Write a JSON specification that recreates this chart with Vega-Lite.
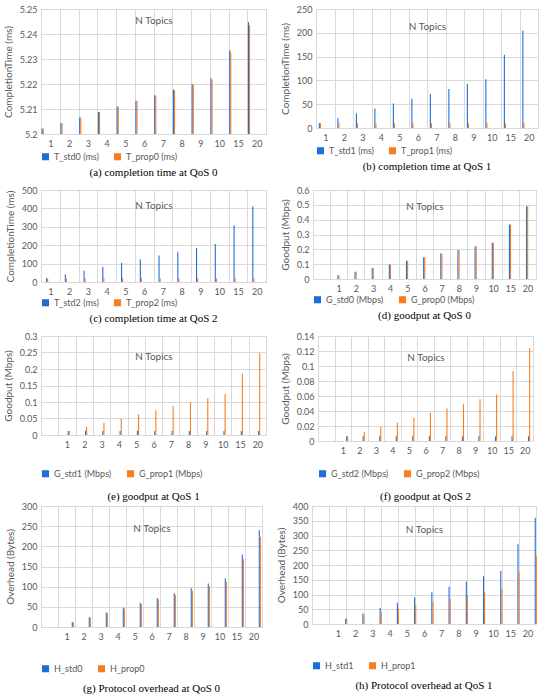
{
  "$schema": "https://vega.github.io/schema/vega-lite/v6.json",
  "padding": {"left": 2, "top": 4, "right": 0, "bottom": 0},
  "spacing": 6,
  "datasets": {
    "a": [
      {"n":"1","s":"T_std0 (ms)","v":5.2022},{"n":"2","s":"T_std0 (ms)","v":5.2044},{"n":"3","s":"T_std0 (ms)","v":5.2066},{"n":"4","s":"T_std0 (ms)","v":5.2088},
      {"n":"5","s":"T_std0 (ms)","v":5.2110},{"n":"6","s":"T_std0 (ms)","v":5.2133},{"n":"7","s":"T_std0 (ms)","v":5.2155},{"n":"8","s":"T_std0 (ms)","v":5.2177},
      {"n":"9","s":"T_std0 (ms)","v":5.2200},{"n":"10","s":"T_std0 (ms)","v":5.2223},{"n":"15","s":"T_std0 (ms)","v":5.2335},{"n":"20","s":"T_std0 (ms)","v":5.2448},
      {"n":"1","s":"T_prop0 (ms)","v":5.2022},{"n":"2","s":"T_prop0 (ms)","v":5.2044},{"n":"3","s":"T_prop0 (ms)","v":5.2066},{"n":"4","s":"T_prop0 (ms)","v":5.2087},
      {"n":"5","s":"T_prop0 (ms)","v":5.2109},{"n":"6","s":"T_prop0 (ms)","v":5.2131},{"n":"7","s":"T_prop0 (ms)","v":5.2153},{"n":"8","s":"T_prop0 (ms)","v":5.2175},
      {"n":"9","s":"T_prop0 (ms)","v":5.2196},{"n":"10","s":"T_prop0 (ms)","v":5.2218},{"n":"15","s":"T_prop0 (ms)","v":5.2327},{"n":"20","s":"T_prop0 (ms)","v":5.2435}
    ],
    "b": [
      {"n":"1","s":"T_std1 (ms)","v":10.3},{"n":"2","s":"T_std1 (ms)","v":20.5},{"n":"3","s":"T_std1 (ms)","v":30.8},{"n":"4","s":"T_std1 (ms)","v":41},
      {"n":"5","s":"T_std1 (ms)","v":51.3},{"n":"6","s":"T_std1 (ms)","v":61.6},{"n":"7","s":"T_std1 (ms)","v":71.8},{"n":"8","s":"T_std1 (ms)","v":82},
      {"n":"9","s":"T_std1 (ms)","v":92.3},{"n":"10","s":"T_std1 (ms)","v":102.5},{"n":"15","s":"T_std1 (ms)","v":154},{"n":"20","s":"T_std1 (ms)","v":205},
      {"n":"1","s":"T_prop1 (ms)","v":10},{"n":"2","s":"T_prop1 (ms)","v":10},{"n":"3","s":"T_prop1 (ms)","v":10},{"n":"4","s":"T_prop1 (ms)","v":10},
      {"n":"5","s":"T_prop1 (ms)","v":10},{"n":"6","s":"T_prop1 (ms)","v":10},{"n":"7","s":"T_prop1 (ms)","v":10},{"n":"8","s":"T_prop1 (ms)","v":10},
      {"n":"9","s":"T_prop1 (ms)","v":10},{"n":"10","s":"T_prop1 (ms)","v":10},{"n":"15","s":"T_prop1 (ms)","v":10},{"n":"20","s":"T_prop1 (ms)","v":10}
    ],
    "c": [
      {"n":"1","s":"T_std2 (ms)","v":20.6},{"n":"2","s":"T_std2 (ms)","v":41.2},{"n":"3","s":"T_std2 (ms)","v":61.8},{"n":"4","s":"T_std2 (ms)","v":82.4},
      {"n":"5","s":"T_std2 (ms)","v":103},{"n":"6","s":"T_std2 (ms)","v":123.6},{"n":"7","s":"T_std2 (ms)","v":144.2},{"n":"8","s":"T_std2 (ms)","v":164.8},
      {"n":"9","s":"T_std2 (ms)","v":185.4},{"n":"10","s":"T_std2 (ms)","v":206},{"n":"15","s":"T_std2 (ms)","v":309},{"n":"20","s":"T_std2 (ms)","v":412},
      {"n":"1","s":"T_prop2 (ms)","v":20},{"n":"2","s":"T_prop2 (ms)","v":20},{"n":"3","s":"T_prop2 (ms)","v":20},{"n":"4","s":"T_prop2 (ms)","v":20},
      {"n":"5","s":"T_prop2 (ms)","v":20},{"n":"6","s":"T_prop2 (ms)","v":20},{"n":"7","s":"T_prop2 (ms)","v":20},{"n":"8","s":"T_prop2 (ms)","v":20},
      {"n":"9","s":"T_prop2 (ms)","v":20},{"n":"10","s":"T_prop2 (ms)","v":20},{"n":"15","s":"T_prop2 (ms)","v":20},{"n":"20","s":"T_prop2 (ms)","v":20}
    ],
    "d": [
      {"n":"1","s":"G_std0 (Mbps)","v":0.0245},{"n":"2","s":"G_std0 (Mbps)","v":0.049},{"n":"3","s":"G_std0 (Mbps)","v":0.0735},{"n":"4","s":"G_std0 (Mbps)","v":0.098},
      {"n":"5","s":"G_std0 (Mbps)","v":0.1225},{"n":"6","s":"G_std0 (Mbps)","v":0.147},{"n":"7","s":"G_std0 (Mbps)","v":0.1715},{"n":"8","s":"G_std0 (Mbps)","v":0.196},
      {"n":"9","s":"G_std0 (Mbps)","v":0.2205},{"n":"10","s":"G_std0 (Mbps)","v":0.245},{"n":"15","s":"G_std0 (Mbps)","v":0.3675},{"n":"20","s":"G_std0 (Mbps)","v":0.49},
      {"n":"1","s":"G_prop0 (Mbps)","v":0.0245},{"n":"2","s":"G_prop0 (Mbps)","v":0.049},{"n":"3","s":"G_prop0 (Mbps)","v":0.0735},{"n":"4","s":"G_prop0 (Mbps)","v":0.098},
      {"n":"5","s":"G_prop0 (Mbps)","v":0.1225},{"n":"6","s":"G_prop0 (Mbps)","v":0.147},{"n":"7","s":"G_prop0 (Mbps)","v":0.1715},{"n":"8","s":"G_prop0 (Mbps)","v":0.196},
      {"n":"9","s":"G_prop0 (Mbps)","v":0.2205},{"n":"10","s":"G_prop0 (Mbps)","v":0.245},{"n":"15","s":"G_prop0 (Mbps)","v":0.3675},{"n":"20","s":"G_prop0 (Mbps)","v":0.49}
    ],
    "e": [
      {"n":"1","s":"G_std1 (Mbps)","v":0.0123},{"n":"2","s":"G_std1 (Mbps)","v":0.0123},{"n":"3","s":"G_std1 (Mbps)","v":0.0123},{"n":"4","s":"G_std1 (Mbps)","v":0.0123},
      {"n":"5","s":"G_std1 (Mbps)","v":0.0123},{"n":"6","s":"G_std1 (Mbps)","v":0.0123},{"n":"7","s":"G_std1 (Mbps)","v":0.0123},{"n":"8","s":"G_std1 (Mbps)","v":0.0123},
      {"n":"9","s":"G_std1 (Mbps)","v":0.0123},{"n":"10","s":"G_std1 (Mbps)","v":0.0123},{"n":"15","s":"G_std1 (Mbps)","v":0.0123},{"n":"20","s":"G_std1 (Mbps)","v":0.0123},
      {"n":"1","s":"G_prop1 (Mbps)","v":0.0124},{"n":"2","s":"G_prop1 (Mbps)","v":0.0248},{"n":"3","s":"G_prop1 (Mbps)","v":0.0372},{"n":"4","s":"G_prop1 (Mbps)","v":0.0496},
      {"n":"5","s":"G_prop1 (Mbps)","v":0.062},{"n":"6","s":"G_prop1 (Mbps)","v":0.0744},{"n":"7","s":"G_prop1 (Mbps)","v":0.0868},{"n":"8","s":"G_prop1 (Mbps)","v":0.0992},
      {"n":"9","s":"G_prop1 (Mbps)","v":0.1116},{"n":"10","s":"G_prop1 (Mbps)","v":0.124},{"n":"15","s":"G_prop1 (Mbps)","v":0.186},{"n":"20","s":"G_prop1 (Mbps)","v":0.248}
    ],
    "f": [
      {"n":"1","s":"G_std2 (Mbps)","v":0.0062},{"n":"2","s":"G_std2 (Mbps)","v":0.0062},{"n":"3","s":"G_std2 (Mbps)","v":0.0062},{"n":"4","s":"G_std2 (Mbps)","v":0.0062},
      {"n":"5","s":"G_std2 (Mbps)","v":0.0062},{"n":"6","s":"G_std2 (Mbps)","v":0.0062},{"n":"7","s":"G_std2 (Mbps)","v":0.0062},{"n":"8","s":"G_std2 (Mbps)","v":0.0062},
      {"n":"9","s":"G_std2 (Mbps)","v":0.0062},{"n":"10","s":"G_std2 (Mbps)","v":0.0062},{"n":"15","s":"G_std2 (Mbps)","v":0.0062},{"n":"20","s":"G_std2 (Mbps)","v":0.0062},
      {"n":"1","s":"G_prop2 (Mbps)","v":0.0062},{"n":"2","s":"G_prop2 (Mbps)","v":0.0124},{"n":"3","s":"G_prop2 (Mbps)","v":0.0186},{"n":"4","s":"G_prop2 (Mbps)","v":0.0248},
      {"n":"5","s":"G_prop2 (Mbps)","v":0.031},{"n":"6","s":"G_prop2 (Mbps)","v":0.0372},{"n":"7","s":"G_prop2 (Mbps)","v":0.0434},{"n":"8","s":"G_prop2 (Mbps)","v":0.0496},
      {"n":"9","s":"G_prop2 (Mbps)","v":0.0558},{"n":"10","s":"G_prop2 (Mbps)","v":0.062},{"n":"15","s":"G_prop2 (Mbps)","v":0.093},{"n":"20","s":"G_prop2 (Mbps)","v":0.124}
    ],
    "g": [
      {"n":"1","s":"H_std0","v":12},{"n":"2","s":"H_std0","v":24},{"n":"3","s":"H_std0","v":36},{"n":"4","s":"H_std0","v":48},
      {"n":"5","s":"H_std0","v":60},{"n":"6","s":"H_std0","v":72},{"n":"7","s":"H_std0","v":84},{"n":"8","s":"H_std0","v":96},
      {"n":"9","s":"H_std0","v":108},{"n":"10","s":"H_std0","v":120},{"n":"15","s":"H_std0","v":180},{"n":"20","s":"H_std0","v":240},
      {"n":"1","s":"H_prop0","v":12.5},{"n":"2","s":"H_prop0","v":23.6},{"n":"3","s":"H_prop0","v":34.7},{"n":"4","s":"H_prop0","v":45.8},
      {"n":"5","s":"H_prop0","v":57},{"n":"6","s":"H_prop0","v":68},{"n":"7","s":"H_prop0","v":79.2},{"n":"8","s":"H_prop0","v":90.3},
      {"n":"9","s":"H_prop0","v":101.4},{"n":"10","s":"H_prop0","v":112.5},{"n":"15","s":"H_prop0","v":168},{"n":"20","s":"H_prop0","v":223.5}
    ],
    "h": [
      {"n":"1","s":"H_std1","v":18},{"n":"2","s":"H_std1","v":36},{"n":"3","s":"H_std1","v":54},{"n":"4","s":"H_std1","v":72},
      {"n":"5","s":"H_std1","v":90},{"n":"6","s":"H_std1","v":108},{"n":"7","s":"H_std1","v":126},{"n":"8","s":"H_std1","v":144},
      {"n":"9","s":"H_std1","v":162},{"n":"10","s":"H_std1","v":180},{"n":"15","s":"H_std1","v":270},{"n":"20","s":"H_std1","v":360},
      {"n":"1","s":"H_prop1","v":19},{"n":"2","s":"H_prop1","v":30.1},{"n":"3","s":"H_prop1","v":41.2},{"n":"4","s":"H_prop1","v":52.3},
      {"n":"5","s":"H_prop1","v":63.4},{"n":"6","s":"H_prop1","v":74.5},{"n":"7","s":"H_prop1","v":85.6},{"n":"8","s":"H_prop1","v":96.7},
      {"n":"9","s":"H_prop1","v":107.8},{"n":"10","s":"H_prop1","v":118.9},{"n":"15","s":"H_prop1","v":174.4},{"n":"20","s":"H_prop1","v":229.9}
    ]
  },
  "vconcat": [
    {
      "hconcat": [
        {
          "width": 225, "height": 125,
          "title": "(a) completion time at QoS 0",
          "data": {"name": "a"},
          "mark": {"type": "bar", "clip": true},
          "encoding": {
            "x": {"field": "n", "type": "nominal", "title": "N Topics", "axis": {"titleY": -119}, "scale": {"domain": ["1","2","3","4","5","6","7","8","9","10","15","20"], "paddingInner": 0, "paddingOuter": 0}},
            "xOffset": {"field": "s", "scale": {"domain": ["T_std0 (ms)", "T_prop0 (ms)"], "paddingOuter": 0.6}},
            "y": {"field": "v", "type": "quantitative", "title": "CompletionTime (ms)", "scale": {"domain": [5.2, 5.25], "zero": false, "nice": false}, "axis": {"values": [5.2, 5.21, 5.22, 5.23, 5.24, 5.25]}},
            "y2": {"datum": 5.2},
            "color": {"field": "s", "title": null, "scale": {"domain": ["T_std0 (ms)", "T_prop0 (ms)"], "range": ["#1f6ed4", "#f57d22"]}}
          }
        },
        {
          "width": 222, "height": 119,
          "title": "(b) completion time at QoS 1",
          "data": {"name": "b"},
          "mark": "bar",
          "encoding": {
            "x": {"field": "n", "type": "nominal", "title": "N Topics", "axis": {"titleY": -107}, "scale": {"domain": ["1","2","3","4","5","6","7","8","9","10","15","20"], "paddingInner": 0, "paddingOuter": 0}},
            "xOffset": {"field": "s", "scale": {"domain": ["T_std1 (ms)", "T_prop1 (ms)"], "paddingOuter": 0.6}},
            "y": {"field": "v", "type": "quantitative", "title": "CompletionTime (ms)", "scale": {"domain": [0, 250], "nice": false}, "axis": {"values": [0, 50, 100, 150, 200, 250]}},
            "color": {"field": "s", "title": null, "scale": {"domain": ["T_std1 (ms)", "T_prop1 (ms)"], "range": ["#1f6ed4", "#f57d22"]}}
          }
        }
      ],
      "spacing": 12,
      "resolve": {"scale": {"color": "independent"}, "legend": {"color": "independent"}}
    },
    {
      "hconcat": [
        {
          "width": 225, "height": 92,
          "title": "(c) completion time at QoS 2",
          "data": {"name": "c"},
          "mark": "bar",
          "encoding": {
            "x": {"field": "n", "type": "nominal", "title": "N Topics", "axis": {"titleY": -82}, "scale": {"domain": ["1","2","3","4","5","6","7","8","9","10","15","20"], "paddingInner": 0, "paddingOuter": 0}},
            "xOffset": {"field": "s", "scale": {"domain": ["T_std2 (ms)", "T_prop2 (ms)"], "paddingOuter": 0.6}},
            "y": {"field": "v", "type": "quantitative", "title": "CompletionTime (ms)", "scale": {"domain": [0, 500], "nice": false}, "axis": {"values": [0, 100, 200, 300, 400, 500]}},
            "color": {"field": "s", "title": null, "scale": {"domain": ["T_std2 (ms)", "T_prop2 (ms)"], "range": ["#1f6ed4", "#f57d22"]}, "legend": {"offset": 2}}
          }
        },
        {
          "width": 223, "height": 89,
          "title": "(d) goodput at QoS 0",
          "data": {"name": "d"},
          "mark": "bar",
          "encoding": {
            "x": {"field": "n", "type": "nominal", "title": "N Topics", "axis": {"titleY": -78}, "scale": {"domain": [" ","1","2","3","4","5","6","7","8","9","10","15","20"], "paddingInner": 0, "paddingOuter": 0}},
            "xOffset": {"field": "s", "scale": {"domain": ["G_std0 (Mbps)", "G_prop0 (Mbps)"], "paddingOuter": 0.6}},
            "y": {"field": "v", "type": "quantitative", "title": "Goodput (Mbps)", "scale": {"domain": [0, 0.6], "nice": false}, "axis": {"values": [0, 0.1, 0.2, 0.3, 0.4, 0.5, 0.6]}},
            "color": {"field": "s", "title": null, "scale": {"domain": ["G_std0 (Mbps)", "G_prop0 (Mbps)"], "range": ["#1f6ed4", "#f57d22"]}, "legend": {"offset": 2}}
          }
        }
      ],
      "spacing": 12,
      "resolve": {"scale": {"color": "independent"}, "legend": {"color": "independent"}}
    },
    {
      "vconcat": [
        {
          "hconcat": [
            {
              "width": 225, "height": 99,
              "title": {"text": "(e) goodput at QoS 1", "offset": 12},
              "data": {"name": "e"},
              "mark": "bar",
              "encoding": {
                "x": {"field": "n", "type": "nominal", "title": "N Topics", "axis": {"titleY": -84}, "scale": {"domain": [" ","1","2","3","4","5","6","7","8","9","10","15","20"], "paddingInner": 0, "paddingOuter": 0}},
                "xOffset": {"field": "s", "scale": {"domain": ["G_std1 (Mbps)", "G_prop1 (Mbps)"], "paddingOuter": 0.6}},
                "y": {"field": "v", "type": "quantitative", "title": "Goodput (Mbps)", "scale": {"domain": [0, 0.3], "nice": false}, "axis": {"values": [0, 0.05, 0.1, 0.15, 0.2, 0.25, 0.3]}},
                "color": {"field": "s", "title": null, "scale": {"domain": ["G_std1 (Mbps)", "G_prop1 (Mbps)"], "range": ["#1f6ed4", "#f57d22"]}, "legend": {"offset": 20}}
              }
            },
            {
              "width": 215, "height": 105,
              "title": {"text": "(f) goodput at QoS 2", "offset": 12},
              "data": {"name": "f"},
              "mark": "bar",
              "encoding": {
                "x": {"field": "n", "type": "nominal", "title": "N Topics", "axis": {"titleY": -89}, "scale": {"domain": [" ","1","2","3","4","5","6","7","8","9","10","15","20"], "paddingInner": 0, "paddingOuter": 0}},
                "xOffset": {"field": "s", "scale": {"domain": ["G_std2 (Mbps)", "G_prop2 (Mbps)"], "paddingOuter": 0.6}},
                "y": {"field": "v", "type": "quantitative", "title": "Goodput (Mbps)", "scale": {"domain": [0, 0.14], "nice": false}, "axis": {"values": [0, 0.02, 0.04, 0.06, 0.08, 0.1, 0.12, 0.14]}},
                "color": {"field": "s", "title": null, "scale": {"domain": ["G_std2 (Mbps)", "G_prop2 (Mbps)"], "range": ["#1f6ed4", "#f57d22"]}, "legend": {"offset": 14}}
              }
            }
          ],
          "spacing": 12,
          "resolve": {"scale": {"color": "independent"}, "legend": {"color": "independent"}}
        },
        {
          "hconcat": [
            {
              "width": 221, "height": 121,
              "title": {"text": "(g) Protocol overhead at QoS 0", "offset": 9},
              "data": {"name": "g"},
              "mark": "bar",
              "encoding": {
                "x": {"field": "n", "type": "nominal", "title": "N Topics", "axis": {"titleY": -104}, "scale": {"domain": [" ","1","2","3","4","5","6","7","8","9","10","15","20"], "paddingInner": 0, "paddingOuter": 0}},
                "xOffset": {"field": "s", "scale": {"domain": ["H_std0", "H_prop0"], "paddingOuter": 0.6}},
                "y": {"field": "v", "type": "quantitative", "title": "Overhead (Bytes)", "scale": {"domain": [0, 300], "nice": false}, "axis": {"values": [0, 50, 100, 150, 200, 250, 300]}},
                "color": {"field": "s", "title": null, "scale": {"domain": ["H_std0", "H_prop0"], "range": ["#1f6ed4", "#f57d22"]}, "legend": {"offset": 23}}
              }
            },
            {
              "width": 224, "height": 118,
              "title": {"text": "(h) Protocol overhead at QoS 1", "offset": 9},
              "data": {"name": "h"},
              "mark": "bar",
              "encoding": {
                "x": {"field": "n", "type": "nominal", "title": "N Topics", "axis": {"titleY": -100}, "scale": {"domain": [" ","1","2","3","4","5","6","7","8","9","10","15","20"], "paddingInner": 0, "paddingOuter": 0}},
                "xOffset": {"field": "s", "scale": {"domain": ["H_std1", "H_prop1"], "paddingOuter": 0.6}},
                "y": {"field": "v", "type": "quantitative", "title": "Overhead (Bytes)", "scale": {"domain": [0, 400], "nice": false}, "axis": {"values": [0, 50, 100, 150, 200, 250, 300, 350, 400]}},
                "color": {"field": "s", "title": null, "scale": {"domain": ["H_std1", "H_prop1"], "range": ["#1f6ed4", "#f57d22"]}, "legend": {"offset": 23}}
              }
            }
          ],
          "spacing": 12,
          "resolve": {"scale": {"color": "independent"}, "legend": {"color": "independent"}}
        }
      ],
      "spacing": -2,
      "resolve": {"scale": {"color": "independent"}, "legend": {"color": "independent"}}
    }
  ],
  "resolve": {"scale": {"color": "independent"}, "legend": {"color": "independent"}},
  "config": {
    "font": "Lato",
    "background": "white",
    "view": {"stroke": "#d9d9d9"},
    "axis": {
      "labelColor": "#595959", "labelFontSize": 9, "titleColor": "#595959", "titleFontSize": 10,
      "titleFontWeight": "normal", "gridColor": "#d9d9d9", "domainColor": "#d9d9d9", "ticks": false, "labelPadding": 4
    },
    "axisX": {"labelAngle": 0, "grid": true, "tickBand": "extent", "labelPadding": 5},
    "axisY": {"domain": false, "format": "~r", "titlePadding": 6},
    "legend": {
      "orient": "bottom", "direction": "horizontal", "symbolType": "square", "symbolSize": 50,
      "labelFontSize": 9, "labelColor": "#595959", "columnPadding": 14, "offset": 4, "padding": 0
    },
    "title": {"orient": "bottom", "font": "Liberation Serif", "fontSize": 11, "fontWeight": "normal", "color": "#000000", "offset": 5, "anchor": "middle"}
  }
}
